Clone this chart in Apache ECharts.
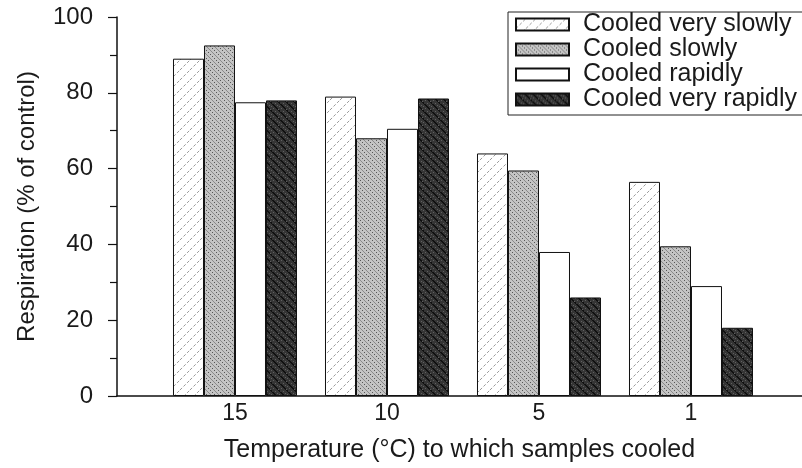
<!DOCTYPE html>
<html>
<head>
<meta charset="utf-8">
<script src="https://cdn.jsdelivr.net/npm/echarts@6/dist/echarts.min.js"></script>
<style>
  html, body { margin: 0; padding: 0; background: #fff; }
  #chart { width: 802px; height: 468px; }
</style>
</head>
<body>
<div id="chart"></div>
<script>
// ---- data ----
const categories = ['15', '10', '5', '1'];
const seriesNames = ['Cooled very slowly', 'Cooled slowly', 'Cooled rapidly', 'Cooled very rapidly'];
const verySlowly = [89, 79, 64, 56.5];
const slowly = [92.5, 68, 59.5, 39.5];
const rapidly = [77.5, 70.5, 38, 29];
const veryRapidly = [78, 78.5, 26, 18];
const xAxisTitle = 'Temperature (°C) to which samples cooled';
const yAxisTitle = 'Respiration (% of control)';

// ---- fill patterns ----
function makePattern(size, bg, draw) {
  const c = document.createElement('canvas');
  c.width = size; c.height = size;
  const ctx = c.getContext('2d');
  ctx.fillStyle = bg;
  ctx.fillRect(0, 0, size, size);
  draw(ctx, size);
  return c;
}
const patVerySlow = makePattern(10, '#ffffff', (ctx, s) => {
  ctx.strokeStyle = '#9a9a9a';
  ctx.lineWidth = 1;
  ctx.setLineDash([3, 2]);
  ctx.beginPath();
  ctx.moveTo(0, s); ctx.lineTo(s, 0);
  ctx.moveTo(-s / 2, s / 2); ctx.lineTo(s / 2, -s / 2);
  ctx.moveTo(s / 2, s * 1.5); ctx.lineTo(s * 1.5, s / 2);
  ctx.stroke();
});
const patSlow = makePattern(8, '#c4c4c4', (ctx, s) => {
  ctx.fillStyle = '#555555';
  for (let x = 0; x < s; x++) {
    for (let y = 0; y < s; y++) {
      if ((x + y) % 4 === 0 && (x % 2 === 0)) ctx.fillRect(x, y, 1, 1);
    }
  }
  ctx.fillStyle = '#8a8a8a';
  for (let i = 0; i < s; i++) ctx.fillRect(i, i, 1, 1);
});
const patVeryRapid = makePattern(8, '#353535', (ctx, s) => {
  ctx.fillStyle = '#101010';
  for (let i = 0; i < s; i++) { ctx.fillRect(i, i, 2, 1); }
  ctx.fillStyle = '#606060';
  [[5, 1], [1, 4], [6, 5], [3, 7], [7, 2]].forEach(p => ctx.fillRect(p[0], p[1], 1, 1));
});

const fills = [
  { image: patVerySlow, repeat: 'repeat' },
  { image: patSlow, repeat: 'repeat' },
  '#ffffff',
  { image: patVeryRapid, repeat: 'repeat' }
];
const valueSets = [verySlowly, slowly, rapidly, veryRapidly];

const FONT = "'Liberation Sans', Arial, Helvetica, sans-serif";
const INK = '#1a1a1a';

const chart = echarts.init(document.getElementById('chart'), null, { renderer: 'canvas' });
chart.setOption({
  animation: false,
  backgroundColor: '#ffffff',
  textStyle: { fontFamily: FONT, color: INK },
  grid: { left: 117, right: 0, top: 17, bottom: 70, containLabel: false },
  legend: {
    data: seriesNames,
    orient: 'vertical',
    left: 508,
    top: 12,
    icon: 'rect',
    itemWidth: 53,
    itemHeight: 12,
    itemGap: 0,
    padding: [0, 30, 3, 7],
    borderColor: '#222',
    borderWidth: 1,
    backgroundColor: '#ffffff',
    textStyle: { fontFamily: FONT, fontSize: 25, lineHeight: 25, color: INK, padding: [0, 0, 0, 9] }
  },
  xAxis: {
    type: 'value',
    min: -0.7763,
    max: 3.7303,
    splitLine: { show: false },
    axisLine: { show: true, lineStyle: { color: '#111', width: 1.5 } },
    axisTick: { show: false },
    axisLabel: {
      customValues: [0, 1, 2, 3],
      formatter: v => categories[Math.round(v)],
      fontFamily: FONT, fontSize: 23, color: INK, margin: 6
    },
    name: xAxisTitle,
    nameLocation: 'middle',
    nameGap: 42,
    nameTextStyle: { fontFamily: FONT, fontSize: 25, color: INK }
  },
  yAxis: {
    type: 'value',
    min: 0,
    max: 100,
    interval: 20,
    splitLine: { show: false },
    axisLine: { show: true, onZero: false, lineStyle: { color: '#111', width: 1.5 } },
    axisTick: { show: true, inside: false, length: 9, lineStyle: { color: '#111', width: 1.2 } },
    minorTick: { show: true, splitNumber: 2, length: 7, lineStyle: { color: '#111', width: 1.2 } },
    axisLabel: { fontFamily: FONT, fontSize: 24, color: INK, margin: 24 },
    name: yAxisTitle,
    nameLocation: 'middle',
    nameRotate: 90,
    nameGap: 78,
    nameTextStyle: { fontFamily: FONT, fontSize: 24, color: INK }
  },
  series: seriesNames.map((name, k) => ({
    name: name,
    type: 'bar',
    barWidth: 31,
    barGap: '0%',
    itemStyle: { color: fills[k], borderColor: '#111', borderWidth: 1 },
    data: categories.map((c, i) => [i, valueSets[k][i]])
  }))
});
</script>
</body>
</html>
